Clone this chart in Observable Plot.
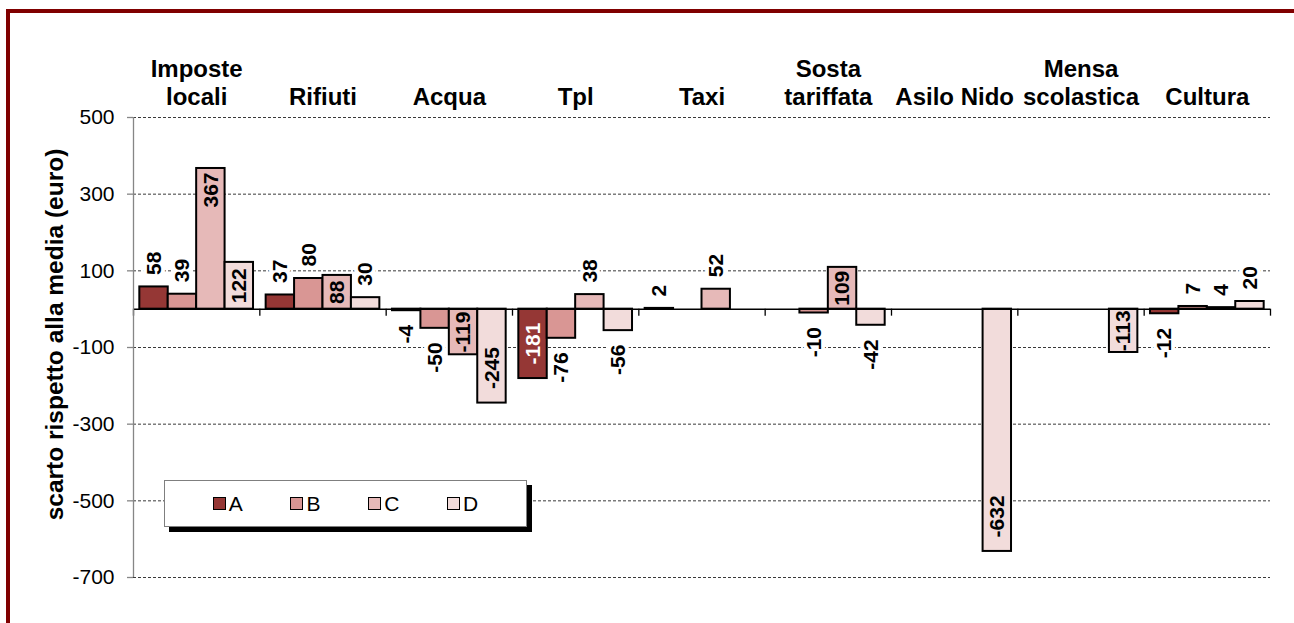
<!DOCTYPE html>
<html>
<head>
<meta charset="utf-8">
<script src="https://cdn.jsdelivr.net/npm/d3@7"></script>
<script src="https://cdn.jsdelivr.net/npm/@observablehq/plot@0.6"></script>
<style>
  body { margin: 0; width: 1294px; height: 623px; overflow: hidden; background: #fff;
         font-family: "Liberation Sans", Arial, sans-serif; }
  #wrap { position: relative; width: 1294px; height: 623px; }
  #frame { position: absolute; left: 6px; top: 9px; width: 1400px; height: 700px;
           border: 4px solid #800000; box-sizing: border-box; pointer-events: none; }
  #legend { position: absolute; left: 164px; top: 480px; width: 363px; height: 47px;
            box-sizing: border-box; border: 1px solid #7f7f7f; background: #fff;
            box-shadow: 5px 5px 0 #000; display: flex; justify-content: space-evenly;
            align-items: center; font-size: 21px; color: #000; }
  #legend .item { display: flex; align-items: center; }
  #legend .sw { width: 13px; height: 13px; border: 1.5px solid #000; box-sizing: border-box; margin-right: 3px; }
</style>
</head>
<body>
<div id="wrap"></div>
<script>
// Cost categories (line breaks as in the column headers)
const categories = ["Imposte\nlocali", "Rifiuti", "Acqua", "Tpl", "Taxi",
                    "Sosta\ntariffata", "Asilo Nido", "Mensa\nscolastica", "Cultura"];
const seriesNames = ["A", "B", "C", "D"];

// Deviation from the average, euro (null = no bar)
const valuesA = [58, 37, -4, -181, 2, null, null, null, -12];
const valuesB = [39, 80, -50, -76, null, -10, null, null, 7];
const valuesC = [367, 88, -119, 38, 52, 109, null, null, 4];
const valuesD = [122, 30, -245, -56, null, -42, -632, -113, 20];

const yTicks = [500, 300, 100, -100, -300, -500, -700];
const yTitle = "scarto rispetto alla media (euro)";

const palette = ["#953735", "#D99694", "#E6B9B8", "#F2DCDB"];

// Long-format rows built from the series arrays
const seriesValues = [valuesA, valuesB, valuesC, valuesD];
const rows = [];
categories.forEach((category, i) => {
  seriesValues.forEach((vals, j) => {
    if (vals[i] != null) rows.push({category, i, series: seriesNames[j], j, value: vals[i]});
  });
});

// Each category occupies one unit on x; bars sit side by side inside it
const groupPad = 0.05;
const barW = (1 - 2 * groupPad) / seriesNames.length;
const bx1 = d => d.i + groupPad + d.j * barW;
const bx2 = d => bx1(d) + barW;
const bxc = d => bx1(d) + barW / 2;

// Label placement: short bars get the label outside, long bars inside
const isInside = d => Math.abs(d.value) >= 85;
const isMid = d => isInside(d) && Math.abs(d.value) < 130;
const isEnd = d => isInside(d) && !isMid(d);
const labelFill = d => (isInside(d) && d.series === "A") ? "#fff" : "#000";
const fmt = d => String(d.value);

const yMin = d3.min(yTicks), yMax = d3.max(yTicks);
const labelFont = {fontSize: 21, fontWeight: "bold", rotate: -90, text: fmt, x: bxc};
const halo = {stroke: "#fff", strokeWidth: 8, paintOrder: "stroke", strokeLinejoin: "round"};

const chart = Plot.plot({
  width: 1294,
  height: 623,
  marginLeft: 133,
  marginRight: 24,
  marginTop: 117,
  marginBottom: 46,
  style: {fontFamily: "'Liberation Sans', Arial, sans-serif", fontSize: "21px", background: "transparent", color: "#000"},
  x: {domain: [0, categories.length], axis: null},
  y: {domain: [yMin, yMax], ticks: yTicks, tickSize: 0, tickPadding: 19, tickFormat: d => String(d), label: null},
  color: {domain: seriesNames, range: palette},
  marks: [
    // dashed gridlines
    Plot.ruleY(yTicks, {stroke: "#3a3a3a", strokeWidth: 1, strokeDasharray: "3,2"}),
    // y tick marks
    Plot.ruleY(yTicks, {x1: 0, x2: 0, insetLeft: -6, stroke: "#868686", strokeWidth: 1.3}),
    // bars
    Plot.rect(rows, {x1: bx1, x2: bx2, y1: 0, y2: "value", fill: "series", stroke: "#000", strokeWidth: 2}),
    // zero baseline and category separators
    Plot.ruleY([0], {stroke: "#000", strokeWidth: 1.5}),
    Plot.ruleX(d3.range(categories.length + 1), {x: d => d, y1: 0, y2: 0, insetBottom: -7, stroke: "#000", strokeWidth: 1.3}),
    // y axis line
    Plot.ruleX([0], {y1: yMin, y2: yMax, stroke: "#868686", strokeWidth: 1.3}),
    // value labels outside the bar end
    Plot.text(rows.filter(d => !isInside(d) && d.value >= 0), {...labelFont, ...halo, y: "value", textAnchor: "start", dy: -12, fill: labelFill}),
    Plot.text(rows.filter(d => !isInside(d) && d.value < 0), {...labelFont, ...halo, y: "value", textAnchor: "end", dy: 14, fill: labelFill}),
    // value labels centred in medium bars
    Plot.text(rows.filter(isMid), {...labelFont, y: d => d.value / 2, textAnchor: "middle", fill: labelFill}),
    // value labels at the inner end of long bars
    Plot.text(rows.filter(d => isEnd(d) && d.value >= 0), {...labelFont, y: "value", textAnchor: "end", dy: 4, fill: labelFill}),
    Plot.text(rows.filter(d => isEnd(d) && d.value < 0), {...labelFont, y: "value", textAnchor: "start", dy: -14, fill: labelFill}),
    // category headers above the plot
    Plot.text(categories, {x: (d, i) => i + 0.5, text: d => d, frameAnchor: "top", lineAnchor: "bottom",
                           dy: -13, fontSize: 24, fontWeight: "bold", lineHeight: 1.15, fill: "#000"}),
    // y axis title
    Plot.text([yTitle], {text: d => d, frameAnchor: "left", textAnchor: "middle", rotate: -90,
                         dx: -78, dy: -13, fontSize: 24.5, fontWeight: "bold", fill: "#000"})
  ]
});

const wrap = document.getElementById("wrap");
wrap.appendChild(chart);

// legend drawn over the plot area
const legend = document.createElement("div");
legend.id = "legend";
seriesNames.forEach((name, j) => {
  const item = document.createElement("div");
  item.className = "item";
  const sw = document.createElement("span");
  sw.className = "sw";
  sw.style.background = palette[j];
  const label = document.createElement("span");
  label.textContent = name;
  item.appendChild(sw);
  item.appendChild(label);
  legend.appendChild(item);
});
wrap.appendChild(legend);

const frame = document.createElement("div");
frame.id = "frame";
wrap.appendChild(frame);
chart.style.position = "absolute";
chart.style.left = "0px";
chart.style.top = "0px";
</script>
</body>
</html>
